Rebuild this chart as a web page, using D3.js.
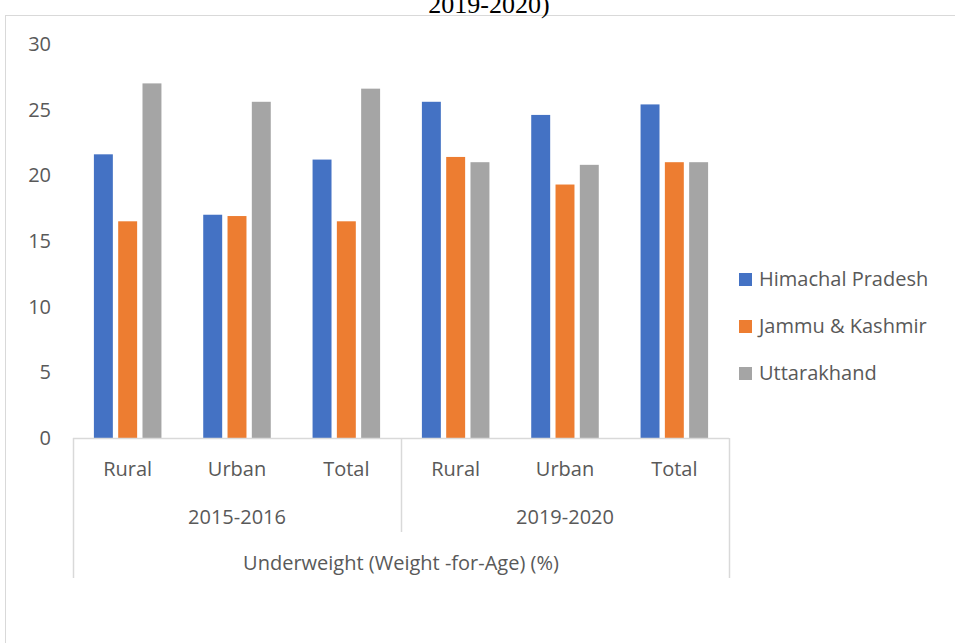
<!DOCTYPE html>
<html>
<head>
<meta charset="utf-8">
<script src="https://cdn.jsdelivr.net/npm/d3@7"></script>
<style>
  body { margin: 0; background: #fff; }
  text { font-family: "Open Sans", Lato, sans-serif; fill: #595959; }
</style>
</head>
<body>
<div id="graph"></div>
<script>
const width = 955, height = 643;
const margin = {left: 73, right: 226, top: 44, bottom: 205};
const fontSize = "20px";

// chart values
const periods = ['2015-2016', '2019-2020'];
const areas = ['Rural', 'Urban', 'Total'];
const states = ['Himachal Pradesh', 'Jammu & Kashmir', 'Uttarakhand'];
const himachal = [21.6, 17.0, 21.2, 25.6, 24.6, 25.4];
const jammuKashmir = [16.5, 16.9, 16.5, 21.4, 19.3, 21.0];
const uttarakhand = [27.0, 25.6, 26.6, 21.0, 20.8, 21.0];
const yTicks = [0, 5, 10, 15, 20, 25, 30];
const axisTitle = 'Underweight (Weight -for-Age) (%)';
const titleText = '2019-2020)';
const colors = ['#4472c4', '#ed7d31', '#a5a5a5'];

const series = [himachal, jammuKashmir, uttarakhand];
const categories = [];
periods.forEach(p => areas.forEach(a => categories.push(p + '|' + a)));

let svgContainer =
d3.select("#graph").
append("svg").
attr("width", width).
attr("height", height);

// outer chart frame
svgContainer.append("rect").
attr("x", 5.5).
attr("y", 15.5).
attr("width", width + 10).
attr("height", height + 10).
attr("fill", "none").
attr("stroke", "#d9d9d9");

// cropped title
svgContainer.append("text").
attr("x", 489).
attr("y", 12.5).
attr("text-anchor", "middle").
style("font-family", "'Liberation Serif', 'Times New Roman', serif").
style("font-size", "26px").
style("fill", "#000").
text(titleText);

const x0 =
d3.scaleBand().
domain(categories).
range([margin.left, width - margin.right]);

const x1 =
d3.scaleBand().
domain(states).
range([0, x0.bandwidth()]).
paddingInner(0.22).
paddingOuter(0.86);

const y =
d3.scaleLinear().
domain([0, 30]).
range([height - margin.bottom, margin.top]);

const yAxis =
d3.axisLeft(y).
tickValues(yTicks).
tickSize(0).
tickPadding(0);

svgContainer.append('g').
attr("transform", "translate(51, 0)").
call(yAxis).
call(g => g.select(".domain").remove()).
selectAll("text").
style("font-size", fontSize).
style("font-family", "'Open Sans', Lato, sans-serif").
style("fill", "#595959");

// bars
const barData = [];
categories.forEach((c, i) => {
  states.forEach((s, j) => {
    barData.push({cat: c, state: s, value: series[j][i], color: colors[j]});
  });
});

svgContainer.selectAll(".bar").
data(barData).
enter().
append("rect").
attr("class", "bar").
attr("x", d => x0(d.cat) + x1(d.state)).
attr("y", d => y(d.value)).
attr("width", x1.bandwidth()).
attr("height", d => y(0) - y(d.value)).
style("fill", d => d.color);

// category axis lines
const base = y(0);
const lineColor = "#d9d9d9";
const xStart = x0.range()[0], xEnd = x0.range()[1];
const xMid = x0(categories[3]);

svgContainer.append("line").
attr("x1", xStart).attr("x2", xEnd).
attr("y1", base + 0.5).attr("y2", base + 0.5).
attr("stroke", lineColor).attr("stroke-width", 1.5);

[xStart, xEnd].forEach(xv => {
  svgContainer.append("line").
  attr("x1", xv + 0.5).attr("x2", xv + 0.5).
  attr("y1", base).attr("y2", base + 140).
  attr("stroke", lineColor).attr("stroke-width", 1.5);
});

svgContainer.append("line").
attr("x1", xMid + 0.5).attr("x2", xMid + 0.5).
attr("y1", base).attr("y2", base + 94).
attr("stroke", lineColor).attr("stroke-width", 1.5);

// area labels
svgContainer.selectAll(".area-label").
data(categories).
enter().
append("text").
attr("class", "area-label").
attr("x", d => x0(d) + x0.bandwidth() / 2).
attr("y", base + 38).
attr("text-anchor", "middle").
style("font-size", fontSize).
text(d => d.split('|')[1]);

// period labels
svgContainer.selectAll(".period-label").
data(periods).
enter().
append("text").
attr("class", "period-label").
attr("x", (d, i) => x0(categories[i * 3]) + x0.bandwidth() * 1.5).
attr("y", base + 86).
attr("text-anchor", "middle").
style("font-size", fontSize).
text(d => d);

svgContainer.append("text").
attr("x", (xStart + xEnd) / 2).
attr("y", base + 132).
attr("text-anchor", "middle").
style("font-size", fontSize).
text(axisTitle);

// legend
let legend =
svgContainer.append("g").
attr("transform", "translate(739, 0)");

legend.selectAll("rect").
data(states).
enter().
append("rect").
attr("x", 0).
attr("y", (d, i) => 273 + i * 47).
attr("width", 13).
attr("height", 13).
style("fill", (d, i) => colors[i]);

legend.selectAll("text").
data(states).
enter().
append("text").
attr("x", 20).
attr("y", (d, i) => 286 + i * 47).
style("font-size", fontSize).
text(d => d);
</script>
</body>
</html>
